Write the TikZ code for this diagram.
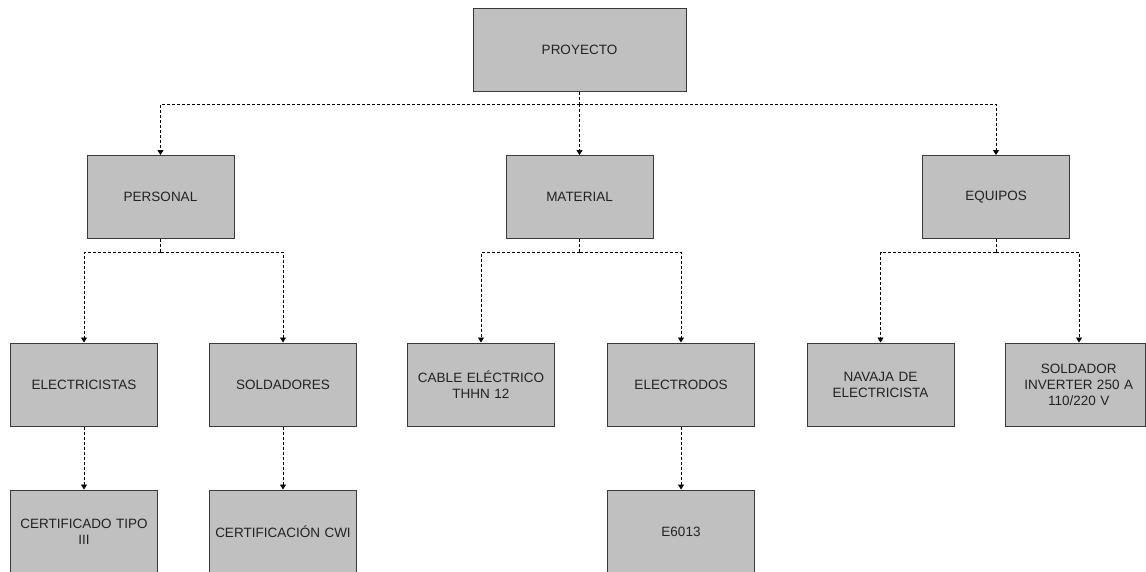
\documentclass[tikz,border=0pt]{standalone}
\usepackage{fontspec}
\setmainfont{Liberation Sans}
\usetikzlibrary{arrows.meta}
\definecolor{boxfill}{HTML}{C0C0C0}
\definecolor{boxline}{HTML}{3A3A3A}
\definecolor{txt}{HTML}{222222}
\begin{document}
\begin{tikzpicture}[x=1pt,y=-1pt,
  box/.style={draw=boxline,line width=1pt,fill=boxfill,minimum width=147pt,minimum height=83pt,
    inner sep=2pt,align=center,text=txt,font=\fontsize{13.5pt}{16pt}\selectfont,text width=140pt},
  bigbox/.style={box,minimum width=213pt,text width=200pt},
  link/.style={draw=black,line width=0.8pt,dash pattern=on 3pt off 2pt,-{Triangle[length=5pt,width=6pt]}},
  plain/.style={draw=black,line width=0.8pt,dash pattern=on 3pt off 2pt}]
\useasboundingbox (0,0) rectangle (1146,571);
\clip (0,0) rectangle (1146,571);
\node[bigbox] (proy) at (579.5,49.5) {PROYECTO};
\node[box] (pers) at (160.5,197) {PERSONAL};
\node[box] (mat) at (579.5,197) {MATERIAL};
\node[box] (equ) at (996,197) {EQUIPOS};
\node[box] (elec) at (84,384.5) {ELECTRICISTAS};
\node[box] (sold) at (283,384.5) {SOLDADORES};
\node[box] (cable) at (481,384.5) {CABLE ELÉCTRICO\\THHN 12};
\node[box] (elect) at (681,384.5) {ELECTRODOS};
\node[box] (nav) at (880.5,384.5) {NAVAJA DE\\ELECTRICISTA};
\node[box,minimum width=140pt,text width=134pt] (sinv) at (1075.25,384.5) {\hspace*{7pt}SOLDADOR\\\hspace*{7pt}INVERTER 250 A\\\hspace*{7pt}110/220 V};
\node[box] (cert) at (84,531.5) {CERTIFICADO TIPO\\III};
\node[box] (cwi) at (283,531.5) {CERTIFICACIÓN CWI};
\node[box] (e6013) at (681,531.5) {E6013};
% level 0 -> 1
\coordinate (j0) at (579.5,104);
\draw[plain] (proy.south) -- (j0);
\draw[link] (j0) -| (pers.north);
\draw[link] (j0) -- (mat.north);
\draw[link] (j0) -| (equ.north);
% personal
\coordinate (j1) at (160.5,252);
\draw[plain] (pers.south) -- (j1);
\draw[link] (j1) -| (elec.north);
\draw[link] (j1) -| (sold.north);
% material
\coordinate (j2) at (579.5,252);
\draw[plain] (mat.south) -- (j2);
\draw[link] (j2) -| (cable.north);
\draw[link] (j2) -| (elect.north);
% equipos
\coordinate (j3) at (996,252);
\draw[plain] (equ.south) -- (j3);
\draw[link] (j3) -| (nav.north);
\draw[link] (j3) -| ([xshift=3.75pt]sinv.north);
% level 2 -> 3
\draw[link] (elec.south) -- (cert.north);
\draw[link] (sold.south) -- (cwi.north);
\draw[link] (elect.south) -- (e6013.north);
\end{tikzpicture}
\end{document}
